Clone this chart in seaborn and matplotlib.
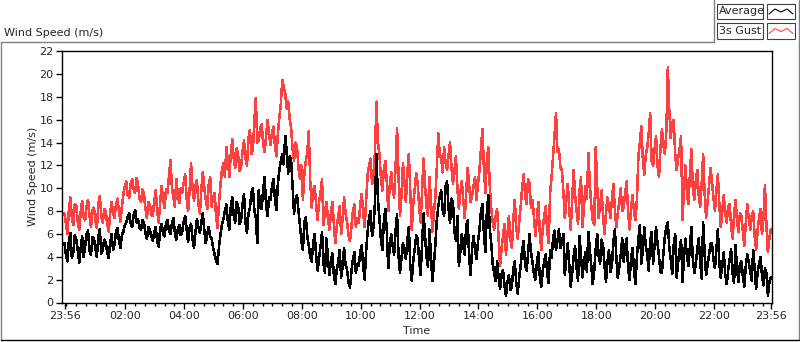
import numpy as np
import pandas as pd
import matplotlib
matplotlib.use("Agg")
import matplotlib.pyplot as plt
import seaborn as sns
from matplotlib.patches import Rectangle
from matplotlib.lines import Line2D

# ---- data (3-minute samples from 23:56 to 23:56 next day) ----
avg_speed = [
    5.2, 4.1, 3.6, 5.4, 6.1, 3.9, 4.4, 5.9, 5.5, 4.6,
    3.5, 4.8, 5.8, 4.0, 4.9, 6.0, 6.3, 4.5, 4.2, 5.7,
    5.6, 4.7, 4.0, 5.8, 6.4, 4.3, 4.6, 5.5, 5.3, 4.4,
    3.9, 5.2, 6.0, 4.6, 5.1, 6.2, 6.5, 5.4, 4.8, 5.9,
    6.2, 6.8, 7.0, 7.5, 7.8, 6.9, 6.6, 7.7, 8.1, 7.0,
    7.3, 6.5, 6.4, 7.2, 7.0, 6.1, 5.6, 6.6, 6.3, 5.8,
    5.4, 6.2, 6.6, 5.3, 4.9, 6.4, 6.9, 6.0, 5.8, 7.0,
    7.2, 6.3, 6.0, 6.9, 7.4, 6.1, 5.5, 6.4, 6.8, 5.9,
    6.2, 7.1, 7.6, 6.4, 5.3, 6.5, 6.9, 5.6, 4.8, 6.2,
    7.3, 6.6, 6.1, 7.0, 7.8, 6.3, 5.2, 6.0, 6.6, 5.8,
    5.6, 4.8, 4.2, 3.7, 3.4, 4.9, 6.0, 6.8, 7.3, 8.0,
    8.6, 7.1, 6.4, 8.3, 9.2, 7.6, 7.0, 8.8, 8.4, 6.9,
    7.2, 8.6, 9.5, 7.0, 6.1, 7.8, 8.3, 9.6, 10.0, 8.1,
    7.4, 5.2, 9.8, 8.6, 8.2, 9.9, 11.0, 8.4, 7.6, 9.2,
    9.0, 10.2, 10.8, 9.1, 8.1, 10.4, 11.6, 12.4, 13.0, 12.1,
    14.6, 13.2, 11.3, 12.8, 12.5, 10.2, 7.8, 9.0, 9.4, 8.0,
    6.8, 5.4, 4.6, 7.0, 7.5, 5.8, 5.0, 4.0, 3.6, 5.2,
    6.0, 4.1, 2.8, 3.9, 4.9, 6.2, 3.4, 2.6, 5.6, 4.0,
    2.4, 3.6, 4.3, 2.5, 1.6, 2.9, 3.5, 4.6, 2.2, 3.1,
    4.8, 3.3, 2.9, 1.8, 1.3, 2.7, 3.8, 4.4, 2.6, 3.4,
    3.2, 4.4, 5.0, 3.1, 2.0, 4.6, 6.2, 7.5, 8.0, 5.8,
    6.6, 8.8, 13.0, 9.0, 7.4, 5.6, 4.6, 7.0, 8.2, 6.3,
    3.0, 4.9, 6.0, 5.0, 4.2, 6.3, 7.7, 4.1, 2.6, 3.9,
    5.2, 4.4, 3.8, 5.5, 6.6, 3.2, 1.9, 3.6, 4.7, 5.9,
    5.6, 3.7, 2.4, 5.1, 7.8, 5.9, 4.0, 3.1, 6.4, 4.2,
    1.9, 3.3, 5.0, 7.2, 8.4, 9.3, 9.8, 8.1, 7.6, 10.2,
    10.6, 8.2, 7.0, 9.1, 8.8, 6.2, 5.4, 7.6, 3.2, 4.5,
    6.0, 4.9, 4.2, 6.8, 7.2, 3.9, 2.4, 4.8, 5.8, 4.6,
    3.8, 5.3, 6.4, 8.0, 8.6, 6.1, 4.4, 7.8, 9.4, 6.5,
    5.2, 3.4, 2.6, 1.9, 3.6, 2.2, 1.2, 2.5, 2.8, 1.5,
    0.6, 1.8, 2.4, 1.1, 1.4, 2.9, 3.6, 1.7, 0.8, 2.2,
    3.2, 4.6, 5.4, 3.3, 2.8, 4.2, 6.0, 4.4, 3.6, 2.5,
    2.0, 3.4, 4.4, 2.3, 1.4, 2.8, 3.6, 4.2, 2.6, 1.7,
    4.6, 3.9, 5.6, 6.3, 4.6, 5.4, 6.4, 4.8, 5.2, 6.0,
    2.4, 3.8, 5.2, 3.3, 1.4, 2.6, 4.0, 4.9, 3.0, 1.9,
    5.8, 4.1, 2.2, 3.5, 4.4, 2.7, 6.2, 4.6, 3.2, 1.6,
    2.8, 4.7, 6.0, 4.1, 3.4, 5.5, 5.0, 3.2, 1.8, 3.6,
    4.6, 2.7, 3.2, 5.3, 6.4, 4.0, 2.2, 3.1, 4.2, 5.6,
    3.6, 4.9, 5.6, 3.0, 2.0, 3.8, 4.8, 2.9, 1.6, 4.0,
    5.6, 6.8, 3.4, 4.6, 6.6, 5.0, 4.2, 2.8, 5.4, 6.2,
    3.4, 5.0, 6.6, 5.2, 4.0, 2.7, 2.6, 4.3, 5.8, 6.6,
    7.0, 4.8, 3.8, 2.5, 5.0, 6.0, 2.2, 3.5, 4.6, 5.5,
    1.8, 3.9, 5.6, 4.0, 3.2, 4.9, 6.6, 3.8, 2.6, 3.4,
    4.6, 5.6, 3.6, 2.1, 7.0, 4.5, 2.4, 3.3, 4.2, 5.1,
    5.2, 3.8, 3.0, 4.6, 6.4, 3.5, 2.2, 3.3, 4.4, 2.5,
    1.6, 2.8, 3.8, 4.7, 2.6, 1.7, 5.0, 3.1, 1.8, 3.4,
    3.6, 2.3, 1.4, 3.2, 4.2, 3.5, 2.8, 1.9, 4.6, 3.0,
    1.2, 2.6, 3.4, 4.0, 2.4, 1.5, 3.0, 2.6, 0.6, 1.8,
    2.2,
]
gust_speed = [
    7.8, 6.9, 6.0, 8.2, 9.2, 7.4, 6.8, 8.6, 8.5, 7.1,
    6.4, 7.9, 8.9, 7.5, 7.2, 8.4, 9.0, 7.6, 6.6, 8.1,
    8.3, 7.2, 6.5, 8.7, 9.3, 7.6, 7.0, 8.2, 8.0, 6.9,
    6.2, 7.8, 8.8, 7.9, 7.4, 8.6, 9.1, 8.0, 7.1, 8.4,
    9.5, 10.2, 10.6, 9.4, 9.2, 10.4, 10.8, 9.9, 9.6, 10.9,
    10.3, 9.1, 8.8, 9.9, 9.5, 8.2, 7.4, 8.8, 8.6, 7.7,
    7.6, 8.9, 9.8, 8.0, 7.0, 8.8, 10.2, 9.0, 8.3, 9.9,
    9.6, 11.0, 12.5, 10.1, 9.2, 8.4, 10.8, 9.5, 8.7, 10.0,
    9.6, 10.5, 11.2, 9.1, 8.0, 9.8, 12.2, 10.0, 8.9, 10.2,
    10.7, 8.6, 7.8, 9.9, 11.4, 10.1, 9.0, 8.2, 10.3, 11.0,
    8.4, 9.2, 9.6, 7.6, 6.5, 8.8, 10.3, 11.6, 12.2, 11.0,
    13.6, 12.4, 11.0, 13.0, 14.3, 12.6, 11.8, 13.5, 12.9, 11.5,
    11.8, 13.3, 14.2, 12.6, 12.0, 14.4, 15.1, 13.0, 13.4, 15.8,
    17.9, 14.0, 14.2, 15.3, 15.6, 13.9, 13.2, 14.6, 16.0, 14.8,
    13.8, 14.9, 15.4, 13.7, 12.8, 14.8, 16.2, 17.4, 19.5, 18.8,
    18.3, 17.0, 17.6, 16.1, 15.3, 13.4, 12.4, 14.0, 13.6, 11.8,
    10.8, 12.0, 9.0, 11.3, 12.4, 13.2, 15.0, 10.6, 8.3, 9.8,
    10.2, 8.6, 7.2, 8.9, 9.6, 10.8, 6.8, 7.9, 8.8, 7.4,
    6.4, 7.8, 8.8, 7.0, 5.2, 6.6, 7.6, 8.4, 6.0, 7.3,
    9.2, 7.8, 7.1, 5.9, 5.4, 6.7, 8.0, 8.6, 6.6, 7.4,
    7.0, 8.6, 9.5, 7.8, 6.6, 9.0, 11.2, 12.0, 12.6, 10.4,
    10.8, 13.2, 17.6, 14.0, 13.0, 11.0, 9.8, 11.6, 12.4, 10.6,
    8.0, 10.2, 11.4, 10.0, 9.2, 12.0, 15.3, 11.1, 7.6, 9.4,
    12.2, 10.6, 8.8, 11.4, 13.0, 9.6, 6.4, 8.6, 10.0, 11.3,
    10.4, 8.4, 7.0, 9.8, 12.6, 10.3, 8.4, 7.6, 11.0, 9.0,
    6.2, 7.8, 9.2, 11.8, 14.8, 13.0, 12.6, 11.4, 13.6, 12.2,
    11.6, 12.9, 14.0, 11.8, 10.4, 11.6, 12.8, 10.0, 8.2, 9.6,
    10.6, 9.0, 7.4, 9.7, 11.8, 10.2, 8.8, 9.4, 10.2, 11.0,
    9.0, 10.4, 11.6, 13.4, 15.2, 11.8, 9.6, 12.4, 13.6, 10.2,
    8.2, 7.0, 6.4, 7.6, 8.2, 5.6, 3.2, 4.7, 5.8, 6.9,
    4.2, 5.9, 7.6, 5.6, 4.8, 7.2, 9.0, 6.6, 5.6, 7.1,
    8.4, 10.0, 11.2, 9.4, 8.6, 10.8, 10.4, 8.3, 9.0, 7.6,
    5.8, 7.4, 8.8, 6.2, 4.6, 6.5, 7.6, 8.4, 6.4, 5.2,
    9.6, 11.0, 12.8, 14.6, 16.6, 13.2, 13.4, 11.8, 11.6, 9.8,
    7.4, 8.9, 10.4, 8.2, 6.4, 9.0, 11.6, 9.4, 8.0, 6.9,
    9.8, 11.0, 6.6, 8.4, 10.2, 9.1, 13.1, 10.4, 8.4, 7.2,
    6.8, 13.6, 10.2, 7.4, 8.6, 9.8, 7.6, 6.0, 7.9, 9.2,
    8.4, 7.4, 9.0, 10.4, 8.2, 6.6, 7.8, 8.8, 10.0, 8.0,
    8.4, 9.6, 10.6, 8.0, 6.4, 8.2, 9.4, 8.0, 7.2, 9.0,
    12.8, 14.0, 15.4, 12.6, 11.2, 12.9, 13.6, 14.8, 16.6, 12.4,
    12.0, 13.4, 14.6, 12.0, 11.0, 13.5, 15.2, 13.8, 13.0, 15.0,
    20.6, 16.8, 14.4, 15.8, 16.0, 13.0, 11.6, 12.6, 13.4, 14.6,
    7.2, 10.0, 12.0, 9.6, 8.6, 11.2, 13.4, 10.0, 9.0, 10.6,
    11.6, 9.4, 8.4, 10.4, 13.0, 9.6, 7.4, 8.8, 10.2, 11.8,
    10.6, 9.2, 8.0, 9.8, 11.2, 8.6, 6.6, 8.0, 9.4, 7.8,
    7.0, 8.4, 8.6, 6.8, 5.6, 7.6, 9.0, 7.2, 6.2, 7.8,
    7.6, 6.2, 5.0, 7.0, 8.6, 7.4, 6.4, 7.6, 8.0, 5.8,
    4.6, 6.3, 7.4, 8.2, 6.0, 7.4, 10.3, 6.8, 4.4, 5.6,
    6.4,
]
time_labels = ["23:56", "02:00", "04:00", "06:00", "08:00", "10:00", "12:00",
               "14:00", "16:00", "18:00", "20:00", "22:00", "23:56"]
y_ticks = [0, 2, 4, 6, 8, 10, 12, 14, 16, 18, 20, 22]
series_names = ["Average", "3s Gust"]
total_hours = 24.0

t_avg = np.linspace(0, total_hours, len(avg_speed))
t_gust = np.linspace(0, total_hours, len(gust_speed))
df_avg = pd.DataFrame({"Time": t_avg, "Speed": avg_speed})
df_gust = pd.DataFrame({"Time": t_gust, "Speed": gust_speed})

def label_to_hours(lbl, last=False):
    h, m = map(int, lbl.split(":"))
    mins = (h * 60 + m - (23 * 60 + 56)) % 1440
    if last and mins == 0:
        mins = 1440
    return mins / 60.0

tick_pos = [label_to_hours(l, i == len(time_labels) - 1) for i, l in enumerate(time_labels)]
minor_pos = [4 / 60 + k / 3 for k in range(72)]

# ---- figure ----
sns.set_style("white")
plt.rcParams["font.family"] = ["DejaVu Sans"]
plt.rcParams["font.size"] = 8

W, H = 800, 342
fig = plt.figure(figsize=(W / 100, H / 100), dpi=100)
fig.patch.set_facecolor("white")

def fx(px):
    return px / W

def fy(py):
    return 1 - py / H

ax = fig.add_axes([fx(62), fy(302.5), fx(772) - fx(62), fy(51.3) - fy(302.5)])

gust_color = "#ff4040"
sns.lineplot(data=df_gust, x="Time", y="Speed", color=gust_color, linewidth=1.1,
             estimator=None, antialiased=False, ax=ax)
sns.lineplot(data=df_avg, x="Time", y="Speed", color="black", linewidth=1.1,
             estimator=None, antialiased=False, ax=ax)

ax.set_xlim(-0.085, 24.04)
ax.set_ylim(0, 22)
ax.set_xticks(tick_pos)
ax.set_xticklabels(time_labels)
ax.set_xticks(minor_pos, minor=True)
ax.set_yticks(y_ticks)
ax.set_yticklabels([str(v) for v in y_ticks])
ax.tick_params(axis="both", which="major", direction="out", length=4, width=1,
               color="black", labelsize=8, pad=2)
ax.tick_params(axis="x", which="minor", direction="out", length=2.5, width=1,
               color="black", bottom=True)
ax.tick_params(left=True, bottom=True)
ax.set_xlabel("")
ax.set_ylabel("")
for s in ax.spines.values():
    s.set_visible(True)
    s.set_color("black")
    s.set_linewidth(1.0)

# axis labels
fig.text(fx(33), fy(176), "Wind Speed (m/s)", rotation=90, ha="center", va="center", fontsize=8)
fig.text(fx(417), fy(331), "Time", ha="center", va="center", fontsize=8)
fig.text(fx(4), fy(33), "Wind Speed (m/s)", ha="left", va="center", fontsize=8)

# panel border
gray = "#808080"
fig.add_artist(Line2D([fx(1), fx(1)], [fy(340), fy(42)], color=gray, lw=1))
fig.add_artist(Line2D([fx(1), fx(714)], [fy(42), fy(42)], color=gray, lw=1))
fig.add_artist(Line2D([fx(714), fx(714)], [fy(42), fy(0)], color=gray, lw=1))
fig.add_artist(Line2D([fx(798.5), fx(798.5)], [fy(0), fy(340)], color=gray, lw=1))
fig.add_artist(Line2D([fx(1), fx(799)], [fy(340), fy(340)], color="black", lw=1))

# legend
leg_colors = ["black", gust_color]
for i, (name, c) in enumerate(zip(series_names, leg_colors)):
    top = 4 + i * 19.5
    fig.add_artist(Rectangle((fx(717), fy(top + 15)), fx(763) - fx(717), fy(top) - fy(top + 15),
                             facecolor="white", edgecolor="#404040", lw=0.8))
    fig.text(fx(719), fy(top + 7.5), name, ha="left", va="center", fontsize=8)
    fig.add_artist(Rectangle((fx(767), fy(top + 15)), fx(795) - fx(767), fy(top) - fy(top + 15),
                             facecolor="white", edgecolor="#404040", lw=0.8))
    zx = [769, 775, 781, 787, 793]
    zy = [top + 10, top + 5, top + 8, top + 5, top + 10]
    fig.add_artist(Line2D([fx(v) for v in zx], [fy(v) for v in zy], color=c, lw=0.8))

fig.savefig("out.png", dpi=100, facecolor="white")
